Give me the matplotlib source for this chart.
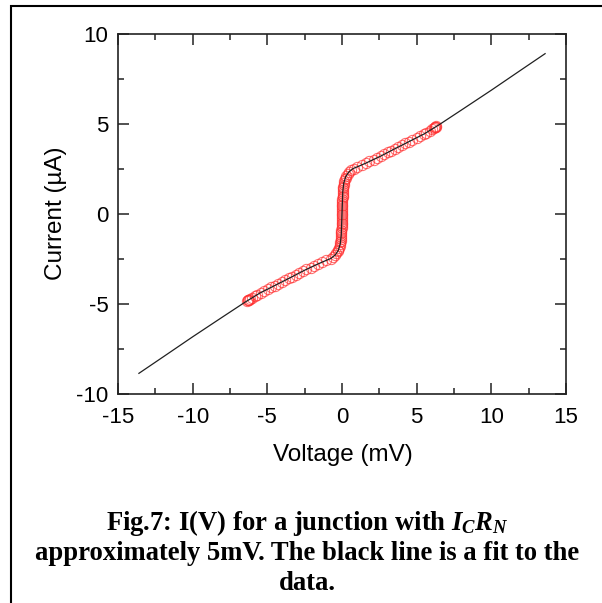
import matplotlib
matplotlib.use("Agg")
import matplotlib.pyplot as plt
from matplotlib.patches import Rectangle
from matplotlib.ticker import MultipleLocator

# ---- data ----
# measured points (Voltage mV, Current uA)
v_data = [0.00, 0.01, 0.00, 0.02, 0.01, 0.02, 0.03, 0.02, 0.03, 0.04, 0.04, 0.05,
          0.05, 0.07, 0.08, 0.09, 0.11, 0.13, 0.15, 0.19, 0.24, 0.30, 0.38, 0.47,
          0.61, 0.78, 1.02, 1.35, 1.62, 1.84, 2.13, 2.35, 2.64, 2.83, 3.10, 3.29,
          3.57, 3.78, 4.04, 4.24, 4.52, 4.72, 5.00, 5.19, 5.47, 5.64, 5.87, 6.03,
          6.22, 6.28, 6.15, 6.25, 6.30,
          -0.01, 0.00, -0.02, -0.01, -0.02, -0.03, -0.02, -0.03, -0.04, -0.04, -0.05,
          -0.06, -0.07, -0.08, -0.10, -0.11, -0.13, -0.16, -0.19, -0.24, -0.30, -0.37,
          -0.46, -0.60, -0.77, -1.05, -1.31, -1.60, -1.88, -2.10, -2.38, -2.61, -2.86,
          -3.07, -3.33, -3.54, -3.80, -4.01, -4.27, -4.49, -4.75, -4.97, -5.22, -5.44,
          -5.67, -5.84, -6.06, -6.24, -6.30, -6.18, -6.27, -6.33]
i_data = [0.00, 0.10, 0.20, 0.30, 0.40, 0.50, 0.60, 0.70, 0.80, 0.90, 1.00, 1.10,
          1.20, 1.30, 1.40, 1.50, 1.60, 1.70, 1.80, 1.90, 2.00, 2.10, 2.20, 2.30,
          2.40, 2.50, 2.60, 2.70, 2.80, 2.90, 3.00, 3.10, 3.20, 3.30, 3.40, 3.50,
          3.60, 3.70, 3.80, 3.90, 4.00, 4.10, 4.20, 4.30, 4.40, 4.50, 4.60, 4.70,
          4.80, 4.83, 4.76, 4.79, 4.86,
          -0.10, -0.20, -0.30, -0.40, -0.50, -0.60, -0.70, -0.80, -0.90, -1.00, -1.10,
          -1.20, -1.30, -1.40, -1.50, -1.60, -1.70, -1.80, -1.90, -2.00, -2.10, -2.20,
          -2.30, -2.40, -2.50, -2.60, -2.70, -2.80, -2.90, -3.00, -3.10, -3.20, -3.30,
          -3.40, -3.50, -3.60, -3.70, -3.80, -3.90, -4.00, -4.10, -4.20, -4.30, -4.40,
          -4.50, -4.60, -4.70, -4.80, -4.83, -4.76, -4.79, -4.86]

# fit curve (Voltage mV, Current uA)
v_fit = [-13.6, -12.0, -10.0, -8.0, -6.5, -5.5, -4.5, -3.5, -2.5, -1.6, -1.1, -0.75,
         -0.45, -0.25, -0.12, -0.05, 0.0, 0.05, 0.12, 0.25, 0.45, 0.75, 1.1, 1.6,
         2.5, 3.5, 4.5, 5.5, 6.5, 8.0, 10.0, 12.0, 13.6]
i_fit = [-8.88, -7.98, -6.85, -5.75, -4.93, -4.42, -4.00, -3.58, -3.15, -2.80, -2.62,
         -2.50, -2.30, -2.05, -1.70, -1.20, 0.0, 1.20, 1.70, 2.05, 2.30, 2.50, 2.62,
         2.80, 3.15, 3.58, 4.00, 4.42, 4.93, 5.75, 6.85, 7.98, 8.88]

x_ticks = [-15, -10, -5, 0, 5, 10, 15]
y_ticks = [-10, -5, 0, 5, 10]

plt.rcParams['font.family'] = ['Liberation Sans', 'DejaVu Sans']
plt.rcParams['mathtext.fontset'] = 'custom'
plt.rcParams['mathtext.rm'] = 'Liberation Serif:bold'
plt.rcParams['mathtext.it'] = 'Liberation Serif:bold:italic'
plt.rcParams['mathtext.bf'] = 'Liberation Serif:bold'

fig = plt.figure(figsize=(6.02, 6.03), dpi=100)
W, H = 602.0, 603.0
ax = fig.add_axes([118 / W, 1 - 393.5 / H, (566 - 118) / W, (393.5 - 33.5) / H])

ax.plot(v_data, i_data, linestyle='none', marker='o', markersize=7.4,
        markerfacecolor='none', markeredgecolor='#ff3030', markeredgewidth=0.75,
        alpha=0.7, zorder=2)
ax.plot(v_fit, i_fit, color='#202020', linewidth=0.9, zorder=3)

ax.set_xlim(-15, 15)
ax.set_ylim(-10, 10)
ax.set_xticks(x_ticks)
ax.set_yticks(y_ticks)
ax.set_xticklabels([str(t) for t in x_ticks])
ax.set_yticklabels([str(t) for t in y_ticks])
ax.xaxis.set_minor_locator(MultipleLocator(2.5))
ax.yaxis.set_minor_locator(MultipleLocator(2.5))
ax.tick_params(which='both', direction='in', top=True, right=True,
               width=1.1, color='#222222', labelsize=16)
ax.tick_params(axis='x', which='both', pad=10)
ax.tick_params(axis='y', which='both', pad=7)
ax.tick_params(which='major', length=8)
ax.tick_params(which='minor', length=4.3)
for s in ax.spines.values():
    s.set_linewidth(1.2)
    s.set_color('#222222')

fig.text(343 / W, 1 - 444 / H, 'Voltage (mV)', ha='center', va='top', fontsize=17.5)
fig.text(56 / W, 1 - 213 / H, 'Current (\u00b5A)', ha='center', va='center',
         rotation=90, fontsize=17.5)

cap = dict(ha='center', va='baseline', fontsize=19.2, family='Liberation Serif',
           fontweight='bold')
fig.text(307 / W, 1 - 530 / H, r'Fig.7: I(V) for a junction with $I_C R_N$', **cap)
fig.text(307 / W, 1 - 560 / H, 'approximately 5mV. The black line is a fit to the', **cap)
fig.text(307 / W, 1 - 590 / H, 'data.', **cap)

frame = Rectangle((11 / W, -0.2), 1.2, 1.2 - 6 / H, transform=fig.transFigure,
                  fill=False, edgecolor='black', linewidth=1.5, clip_on=False)
fig.patches.append(frame)

fig.savefig('out.png', dpi=100)
